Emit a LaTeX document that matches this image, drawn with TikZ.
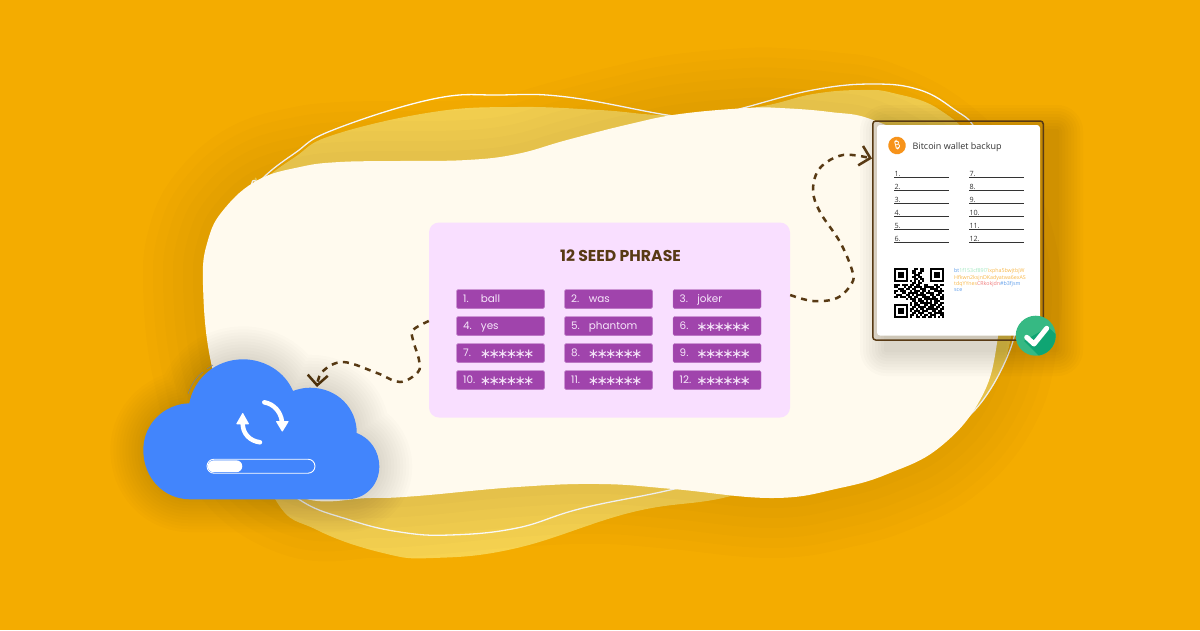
\documentclass[tikz,border=0pt]{standalone}
\usepackage{fontspec}
\setmainfont{Poppins}
\newfontfamily\uifont{Open Sans}
\newfontfamily\symfont{Noto Sans}
\newfontfamily\starfont[LetterSpace=-19.6]{DejaVu Sans}
\usetikzlibrary{arrows.meta}
\definecolor{bgor}{HTML}{F4AC00}
\definecolor{yel}{HTML}{F7D350}
\definecolor{cream}{HTML}{FFFAEE}
\definecolor{pinkp}{HTML}{F9DFFF}
\definecolor{purp}{HTML}{A044AC}
\definecolor{seedtx}{HTML}{F6E6FA}
\definecolor{brn}{HTML}{583A14}
\definecolor{blu}{HTML}{4285FC}
\definecolor{grn}{HTML}{36B983}
\definecolor{grnd}{HTML}{0FA573}
\definecolor{btc}{HTML}{F7931A}
\definecolor{hblue}{HTML}{5B9BEA}
\definecolor{hgreen}{HTML}{9FE8C0}
\definecolor{horange}{HTML}{F8B84A}
\definecolor{hpink}{HTML}{F07A7A}
\tikzset{
  x=1pt,y=-1pt,
  seedbox/.style={fill=purp,draw=purp!75!white,line width=.4pt,rounded corners=1.5pt,minimum width=88pt,minimum height=19pt,inner sep=0pt},
  seedtxt/.style={text=seedtx,font=\fontsize{10.4}{13}\selectfont,anchor=base west,inner sep=0pt},
  startxt/.style={text=seedtx,inner sep=0pt,anchor=west,font=\starfont\fontsize{13.5}{14}\selectfont},
  dashline/.style={draw=brn,line width=2.5pt,dash pattern=on 6pt off 5.5pt},
  barbtip/.style={-{Straight Barb[length=10pt,width=20pt,line width=2.5pt]}},
  rowtxt/.style={text=black!80,font=\uifont\fontsize{7.2}{8}\selectfont,anchor=base west,inner sep=0pt},
  rowline/.style={draw=black!80,line width=.8pt},
  hexline/.style={font=\uifont\fontsize{5.3}{6}\selectfont,anchor=base west,inner sep=0pt},
  whitearc/.style={draw=white,line width=4.5pt,line cap=round},
}
\def\yellowblob{plot[smooth cycle,tension=.7] coordinates {(252,200)(263,181)(295,157)(333,135)(433,112)(517,107)(600,110)(673,115)(757,107)(813,94)(860,90)(893,93)(940,110)(975,150)(1005,250)(1010,342)(973,412)(930,430)(800,470)(727,497)(633,512)(517,548)(433,558)(383,553)(317,530)(275,499)(240,400)}}
\def\creamblob{plot[smooth cycle,tension=.7] coordinates {(203,285)(208,240)(225,208)(258,180)(300,167)(340,162)(400,161)(467,160)(517,154)(567,140)(630,124)(680,114)(747,108)(780,108)(830,112)(873,120)(930,150)(975,200)(1000,270)(997,343)(980,400)(940,447)(890,473)(840,488)(773,498)(673,489)(600,484)(517,487)(417,496)(370,498)(300,497)(240,450)(212,367)}}
\def\whiteblob{plot[smooth cycle,tension=.7] coordinates {(250,200)(262,179)(295,153)(333,130)(433,99)(500,95)(567,97)(667,115)(705,118)(743,108)(813,90)(873,84)(920,90)(955,110)(975,128)(995,170)(1010,240)(1015,300)(1010,350)(972,413)(930,430)(800,450)(690,485)(583,508)(517,528)(450,535)(400,532)(350,520)(300,500)(262,462)(250,350)}}
\def\cloudshape{(190,499.3) .. controls (164,499.3) and (143.3,478) .. (143.3,450)
 .. controls (143.3,424) and (164,404) .. (189.3,403.3)
 .. controls (194,378) and (216,359.3) .. (243,359.3)
 .. controls (265,359.3) and (285,372) .. (293,391)
 .. controls (298,389) and (304,387.7) .. (310,387.7)
 .. controls (337,387.7) and (357,408) .. (356.7,433)
 .. controls (370,438) and (379.3,451) .. (379.3,466.7)
 .. controls (379.3,485) and (365,499.3) .. (347,499.3) -- cycle}
\newcommand{\seedword}[4]{%
  \node[seedbox] (s#1) at (#2,#3) {};
  \node[seedtxt] (n#1) at (#2-37.5,#3+3.7) {#1.};
  \node[seedtxt] (w#1) at (#2-19.8,#3+3.7) {#4};
}
\newcommand{\seedstar}[3]{%
  \node[seedbox] (s#1) at (#2,#3) {};
  \node[seedtxt] (n#1) at (#2-37.5,#3+3.7) {#1.};
  \node[startxt] (w#1) at (#2-20.8,#3+1.4) {∗∗∗∗∗∗};
}
\newcount\qcol \newcount\qlin \qlin=0
\def\qrscan#1{\ifx#1\relax\else
  \ifx#11\fill[black] ({894+2*\the\qcol},{268.3+2*\the\qlin}) rectangle +(2.03,2.03);\fi
  \global\advance\qcol by 1 \expandafter\qrscan\fi}
\def\qrrow#1{\global\qcol=0 \qrscan#1\relax \global\advance\qlin by 1 }
\begin{document}
\begin{tikzpicture}
\useasboundingbox (0,0) rectangle (1200,630);
\fill[bgor] (0,0) rectangle (1200,630);
\fill[yel] \yellowblob;
\draw[white,line width=1.3pt] \whiteblob;
% soft shadow of the cream blob
\foreach \w in {20,40,...,120}{
  \draw[black,opacity=.01,line width=\w pt,line join=round] \creamblob;
}
\fill[cream] \creamblob;
% pink panel
\node[fill=pinkp,rounded corners=10pt,minimum width=361pt,minimum height=195pt,inner sep=0pt] (panel) at (609.5,320) {};
\node[text=brn,font=\bfseries\fontsize{15.7}{18}\selectfont,anchor=base,inner sep=0pt] (title) at (620.5,261.7) {12 SEED PHRASE};
\seedword{1}{500.5}{299}{ball}
\seedword{2}{608.5}{299}{was}
\seedword{3}{717}{299}{joker}
\seedword{4}{500.5}{326}{yes}
\seedword{5}{608.5}{326}{phantom}
\seedstar{6}{717}{326}
\seedstar{7}{500.5}{353}
\seedstar{8}{608.5}{353}
\seedstar{9}{717}{353}
\seedstar{10}{500.5}{380}
\seedstar{11}{608.5}{380}
\seedstar{12}{717}{380}
% card shadow
\foreach \r in {2,5,...,26}{
  \fill[black,opacity=.016,rounded corners=\r pt] (872-\r+14,121-\r+10) rectangle (1043+\r+14,340+\r+10);
}
% card
\node[draw=brn,line width=1.5pt,fill=brn,fill opacity=.1,rounded corners=3pt,minimum width=170.5pt,minimum height=219pt,inner sep=0pt] (card) at (958,230.5) {};
\fill[white,rounded corners=3pt] (877,125) rectangle (1040,335.5);
% connectors
\coordinate (c1) at (panel.east |- 0,295);
\coordinate (c2) at (card.west |- 0,158.5);
\draw[dashline,barbtip] plot[smooth,tension=.6] coordinates {(c1)(813,301)(837,298)(852,283)(852,270)(840,242)(820,212)(813,190)(820,168)(843,155)(c2)};
\coordinate (c3) at (panel.west |- 0,321);
\coordinate (c4) at (317,387);
\draw[dashline,barbtip] plot[smooth,tension=.6] coordinates {(c3)(413,330)(413,340)(419,360)(418,372)(400,382)(377,373)(343,362)(322,372)(c4)};
\node[circle,fill=btc,minimum size=17.5pt,inner sep=0pt,text=white,font=\symfont\bfseries\fontsize{10.5}{11}\selectfont,rotate=14] (btc) at (897,145.5) {₿};
\node[text=black!80,font=\uifont\fontsize{9}{11}\selectfont,anchor=base west,inner sep=0pt] (ct) at (912.5,149.3) {Bitcoin wallet backup};
\foreach \i/\y in {1/177,2/190,3/203,4/216.3,5/229.3,6/242.3}{
  \draw[rowline] (894.3,\y) -- (948.7,\y);
  \node[rowtxt] at (894.3,\y-.8) {\i.};
}
\foreach \i/\y in {7/177,8/190,9/203,10/216.3,11/229.3,12/242.3}{
  \draw[rowline] (969.3,\y) -- (1023.7,\y);
  \node[rowtxt] at (969.3,\y-.8) {\i.};
}
% QR
\qrrow{1111111000110110001111111}
\qrrow{1000001001100110001000001}
\qrrow{1011101001101100001011101}
\qrrow{1011101000111000001011101}
\qrrow{1011101001101100001011101}
\qrrow{1000001000110110001000001}
\qrrow{1111111010101010001111111}
\qrrow{0000000001101100000000000}
\qrrow{1110111011011001100011011}
\qrrow{1100010110111101111101100}
\qrrow{0011101101100111001111010}
\qrrow{1101110010111011010011111}
\qrrow{1000110111110110111100110}
\qrrow{0111001101011111001101101}
\qrrow{1101110110110011110110011}
\qrrow{0000001011101101111111011}
\qrrow{0000000001101110101011100}
\qrrow{0000000010110111111011011}
\qrrow{1111111010111001101110110}
\qrrow{1000001001101111011101101}
\qrrow{1011101011010110111111011}
\qrrow{1011101010111011100110110}
\qrrow{1011101001101110011011111}
\qrrow{1000001011010101101110011}
\qrrow{1111111010011011011010101}
% address
\node[hexline] (h1) at (954,272.7) {\textcolor{hblue}{bt}\textcolor{hgreen}{1f153cf89l7}\textcolor{horange}{ixpha5bwjtbjW}};
\node[hexline,text=horange] (h2) at (954,279.3) {Hfkwn2ksjnDKadyatwa6exAS};
\node[hexline] (h3) at (954,285.3) {\textcolor{horange}{tdqYYnes}\textcolor{hpink}{CRkokjdn}\textcolor{hblue}{\#b3fjsm}};
\node[hexline,text=hblue] (h4) at (954,291.3) {sce};
% check badge
\node[circle,fill=grn,minimum size=40pt,inner sep=0pt] (chk) at (1035.7,335.7) {};
\begin{scope}
  \clip (chk) circle (20pt);
  \fill[grnd] (1024,341) -- (1048,327) -- (1062,340) -- (1062,362) -- (1045,362) -- cycle;
\end{scope}
\draw[white,line width=5pt,line cap=round,line join=round] (1026.7,337.3) -- (1034,344) -- (1046.7,328.3);
% cloud shadow
\foreach \w in {6,12,...,66}{
  \draw[black,opacity=.012,line width=\w pt,line join=round] \cloudshape;
}
\fill[blu] \cloudshape;
\draw[draw=blu!55!black!70,line width=.5pt] (188,394) .. controls (192,382) and (198,376) .. (203,372);
\draw[draw=blu!55!black!70,line width=.5pt] (207,369) -- (213,365);
% refresh arrows
\draw[whitearc] (264.3,402.3) .. controls (274,404) and (281,412) .. (282,422);
\fill[white,rounded corners=.8pt] (275.7,421) -- (289,421) -- (282.3,432) -- cycle;
\draw[whitearc] (260,442.3) .. controls (250,441) and (243,434) .. (242.7,424);
\fill[white,rounded corners=.8pt] (236,424.3) -- (249.3,424.3) -- (242.7,412.5) -- cycle;
% progress bar
\draw[white,line width=.9pt,rounded corners=7pt] (207,459.2) rectangle (315,473.2);
\fill[white,rounded corners=6pt] (207.8,460.3) rectangle (242.3,472.2);
\end{tikzpicture}
\end{document}
